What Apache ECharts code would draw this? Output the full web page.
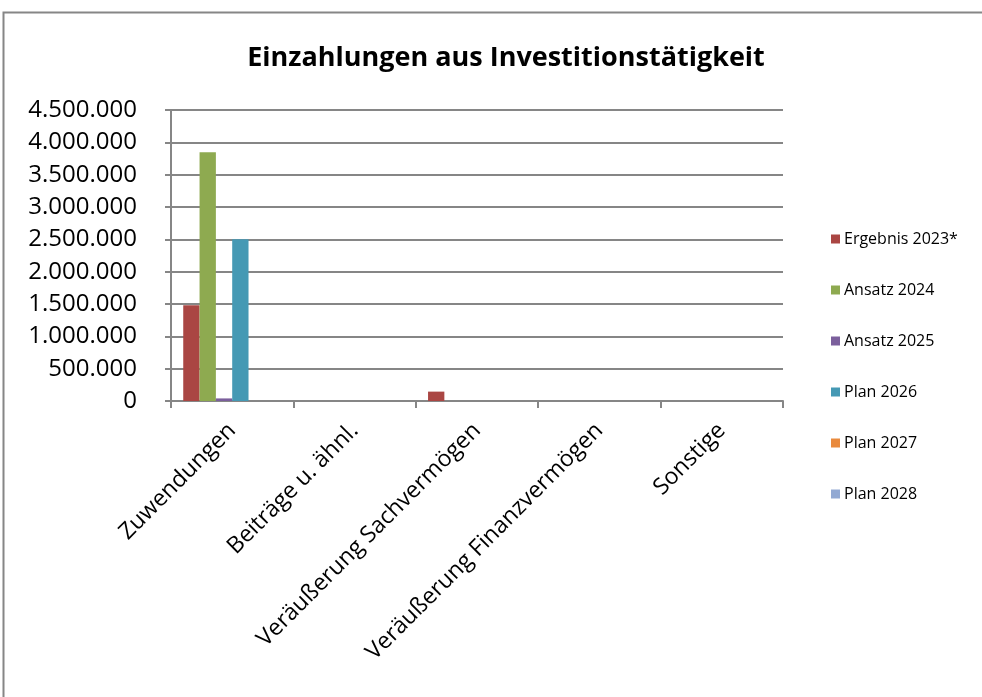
<!DOCTYPE html>
<html>
<head>
<meta charset="utf-8">
<script src="https://cdn.jsdelivr.net/npm/echarts@6/dist/echarts.min.js"></script>
<style>
html,body{margin:0;padding:0;background:#fff;}
#chart{width:982px;height:697px;}
</style>
</head>
<body>
<div id="chart"></div>
<script>
var categories = ['Zuwendungen', 'Beiträge u. ähnl.', 'Veräußerung Sachvermögen', 'Veräußerung Finanzvermögen', 'Sonstige'];
var seriesNames = ['Ergebnis 2023*', 'Ansatz 2024', 'Ansatz 2025', 'Plan 2026', 'Plan 2027', 'Plan 2028'];
var ergebnis2023 = [1480000, 0, 145000, 0, 0];
var ansatz2024 = [3845000, 0, 0, 0, 0];
var ansatz2025 = [40000, 0, 0, 0, 0];
var plan2026 = [2500000, 0, 0, 0, 0];
var plan2027 = [0, 0, 0, 0, 0];
var plan2028 = [0, 0, 0, 0, 0];
var colors = ['#AA4643', '#8EAA50', '#7B5F9C', '#4599B4', '#E98A3D', '#92A9D3'];

var allData = [ergebnis2023, ansatz2024, ansatz2025, plan2026, plan2027, plan2028];
var fontFam = '"Open Sans", "Liberation Sans", sans-serif';

function fmt(v) {
  return String(v).replace(/\B(?=(\d{3})+(?!\d))/g, '.');
}

var chart = echarts.init(document.getElementById('chart'), null, {renderer: 'canvas'});
chart.setOption({
  animation: false,
  backgroundColor: '#fff',
  color: colors,
  title: {
    text: 'Einzahlungen aus Investitionstätigkeit',
    left: 501, textAlign: 'center', top: 40,
    textStyle: {fontFamily: fontFam, fontWeight: 'bold', fontSize: 27, color: '#000'}
  },
  legend: {
    orient: 'vertical',
    left: 826, top: 226,
    itemWidth: 9, itemHeight: 9, itemGap: 35,
    icon: 'rect',
    textStyle: {fontFamily: fontFam, fontSize: 16, color: '#000', padding: [0,0,0,-1]},
    data: seriesNames
  },
  grid: {left: 171, right: 199, top: 110, bottom: 296, containLabel: false},
  xAxis: {
    type: 'category',
    data: categories,
    axisLine: {lineStyle: {color: '#868686', width: 2}},
    axisTick: {show: true, length: 7, lineStyle: {color: '#868686', width: 2}},
    axisLabel: {rotate: 45, fontFamily: fontFam, fontSize: 23, color: '#000', margin: 26, interval: 0}
  },
  yAxis: {
    type: 'value',
    min: 0, max: 4500000, interval: 500000,
    axisLine: {show: true, lineStyle: {color: '#868686', width: 2}},
    axisTick: {show: true, length: 6, lineStyle: {color: '#868686', width: 2}},
    splitLine: {lineStyle: {color: '#868686', width: 2}},
    axisLabel: {fontFamily: fontFam, fontSize: 24, color: '#000', margin: 34, formatter: fmt}
  },
  series: seriesNames.map(function (n, i) {
    return {
      name: n, type: 'bar', data: allData[i],
      barGap: '0%', barCategoryGap: '20%'
    };
  }),
  graphic: [{
    type: 'rect', z: 100,
    shape: {x: 3.5, y: 12.5, width: 1000, height: 800},
    style: {fill: 'none', stroke: '#868686', lineWidth: 2}
  }]
});
</script>
</body>
</html>
